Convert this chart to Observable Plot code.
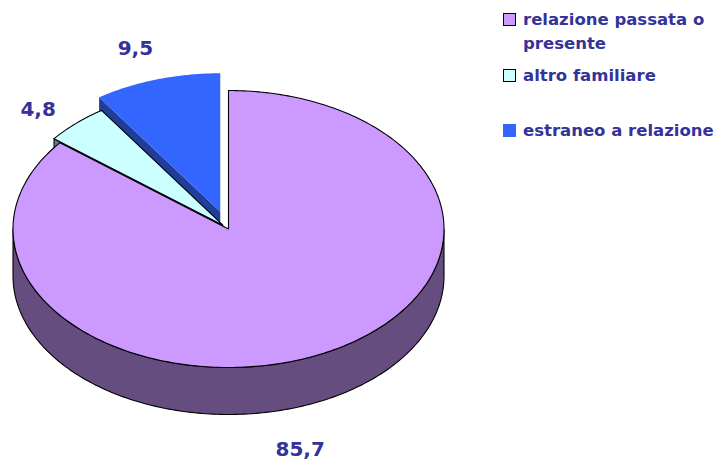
<!DOCTYPE html>
<html>
<head>
<meta charset="utf-8">
<script src="https://cdn.jsdelivr.net/npm/d3@7"></script>
<script src="https://cdn.jsdelivr.net/npm/@observablehq/plot@0.6"></script>
<style>
  html, body { margin: 0; padding: 0; background: #fff; }
  #wrap { position: relative; width: 723px; height: 460px; overflow: hidden; font-family: "DejaVu Sans", Verdana, sans-serif; }
  #wrap svg { position: absolute; left: 0; top: 0; }
  .item { position: absolute; left: 503px; color: #333399; font-weight: bold; font-size: 16.5px; line-height: 24px; }
  .sw { position: absolute; left: 0; width: 13px; height: 13px; box-sizing: border-box; }
  .txt { position: absolute; left: 20px; top: 0; }
</style>
</head>
<body>
<div id="wrap"></div>
<script>
// ---- data ----
const categories = ["relazione passata o presente", "altro familiare", "estraneo a relazione"];
const values = [85.7, 4.8, 9.5];
const valueLabels = ["85,7", "4,8", "9,5"];
const topColors = ["#CC99FF", "#CCFFFF", "#3366FF"];
const sideColors = ["#654D80", "#5F8080", "#1F3D99"];

// ---- layout ----
const CX = 228, CY = 228.5, RX = 215.5, RY = 138.5, DEPTH = 47;
const explode = [0, 0.04, 0.13];
const outlined = [true, true, false];
const D = DEPTH / RY;
const TEXT = "#333399";

const arcs = d3.pie().sort(null).value(d => d).startAngle(0).endAngle(2 * Math.PI)(values);

function pt(a, r, off, low) {
  return { x: off.x + r * Math.sin(a), y: off.y + r * Math.cos(a) - (low ? D : 0) };
}
function arcPts(a0, a1, off, low) {
  const n = Math.max(2, Math.ceil((a1 - a0) / (Math.PI / 180)));
  const out = [];
  for (let k = 0; k <= n; k++) out.push(pt(a0 + (a1 - a0) * k / n, 1, off, low));
  return out;
}

const faces = [], walls = [], tops = [];
arcs.forEach((s, i) => {
  const a0 = s.startAngle, a1 = s.endAngle, m = (a0 + a1) / 2;
  const off = { x: explode[i] * Math.sin(m), y: explode[i] * Math.cos(m) };
  const apex = { x: off.x, y: off.y }, apexLow = { x: off.x, y: off.y - D };
  const style = { fill: sideColors[i], stroke: outlined[i] ? "#000" : "none" };
  // radial faces visible to viewer
  if (Math.sin(a0) < -1e-9) {
    const p = [apex, pt(a0, 1, off, false), pt(a0, 1, off, true), apexLow];
    faces.push({ pts: [...p, p[0]], ...style });
  }
  if (Math.sin(a1) > 1e-9) {
    const p = [apex, pt(a1, 1, off, false), pt(a1, 1, off, true), apexLow];
    faces.push({ pts: [...p, p[0]], ...style });
  }
  // outer wall (front half)
  const ws = Math.max(a0, Math.PI / 2), we = Math.min(a1, 3 * Math.PI / 2);
  if (ws < we) {
    const p = [...arcPts(ws, we, off, false), ...arcPts(ws, we, off, true).reverse()];
    walls.push({ pts: [...p, p[0]], ...style });
  }
  // top
  const p = [apex, ...arcPts(a0, a1, off, false)];
  tops.push({ pts: [...p, p[0]], fill: topColors[i], stroke: outlined[i] ? "#000" : "none" });
});

const polyMarks = [...faces, ...walls, ...tops].map(poly =>
  Plot.line(poly.pts, { x: "x", y: "y", fill: poly.fill, stroke: poly.stroke, strokeWidth: 1.1, curve: "linear", strokeLinejoin: "round" })
);

// labels
const labelR = 1.3;
const nudges = [[-50, 11], [6, 17], [-2.5, 9]];
const labelMarks = arcs.map((s, i) => {
  const m = (s.startAngle + s.endAngle) / 2;
  const r = labelR + explode[i];
  const pos = { x: r * Math.sin(m), y: r * Math.cos(m) - (Math.cos(m) < 0 ? D : 0), t: valueLabels[i] };
  return Plot.text([pos], {
    x: "x", y: "y", text: "t", dx: nudges[i][0], dy: nudges[i][1],
    fill: TEXT, fontSize: 20, fontWeight: "bold", fontFamily: "DejaVu Sans, Verdana, sans-serif",
    textAnchor: "middle", lineAnchor: "middle"
  });
});

const chart = Plot.plot({
  width: 723, height: 460, margin: 0,
  x: { domain: [-1, 1], range: [CX - RX, CX + RX] },
  y: { domain: [-1, 1], range: [CY + RY, CY - RY] },
  axis: null,
  style: { background: "#fff", overflow: "visible" },
  marks: [...polyMarks, ...labelMarks]
});
const wrap = document.getElementById("wrap");
wrap.appendChild(chart);

// legend
const legendTops = [8.3, 64.3, 119.3];
const legendWidths = ["188px", "auto", "auto"];
categories.forEach((c, i) => {
  const it = document.createElement("div");
  it.className = "item";
  it.style.top = legendTops[i] + "px";
  const sw = document.createElement("div");
  sw.className = "sw";
  sw.style.top = "4.5px";
  sw.style.background = topColors[i];
  sw.style.border = outlined[i] ? "1.5px solid #000" : "none";
  const tx = document.createElement("div");
  tx.className = "txt";
  tx.textContent = c;
  tx.style.width = legendWidths[i];
  tx.style.whiteSpace = i === 0 ? "normal" : "nowrap";
  it.appendChild(sw);
  it.appendChild(tx);
  wrap.appendChild(it);
});
</script>
</body>
</html>
